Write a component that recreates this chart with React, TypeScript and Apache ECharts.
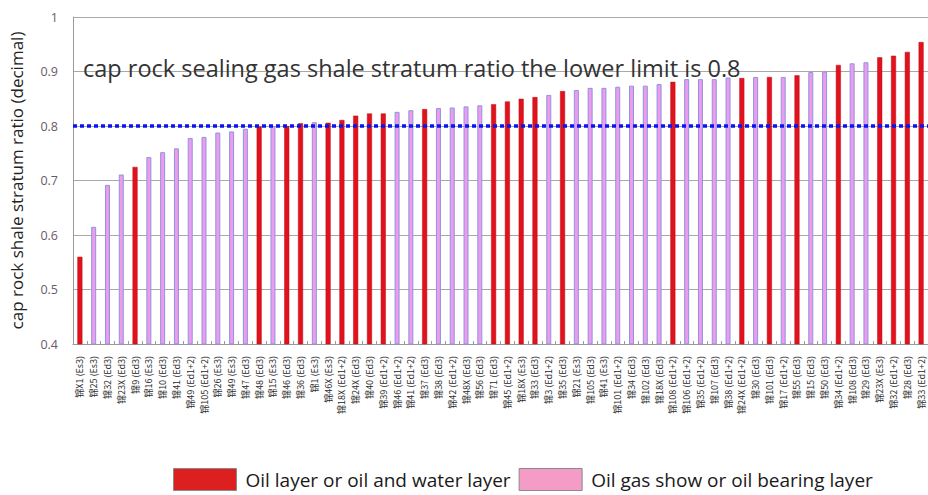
import React, { useEffect, useRef } from "react";
import * as echarts from "echarts";

const wells: string[] = [
  "锦X1 (Es3)", "锦25 (Es3)", "锦32 (Ed3)", "锦23X (Ed3)", "锦9 (Ed3)", "锦16 (Es3)", "锦10 (Ed3)", "锦41 (Ed3)", "锦49 (Ed1+2)", "锦105 (Ed1+2)",
  "锦26 (Es3)", "锦49 (Es3)", "锦47 (Ed3)", "锦48 (Ed3)", "锦15 (Es3)", "锦46 (Ed3)", "锦36 (Ed3)", "锦1 (Es3)", "锦46X (Es3)", "锦18X (Ed1+2)",
  "锦24X (Ed3)", "锦40 (Ed3)", "锦39 (Ed1+2)", "锦46 (Ed1+2)", "锦41 (Ed1+2)", "锦37 (Ed3)", "锦38 (Ed3)", "锦42 (Ed1+2)", "锦48X (Ed3)", "锦56 (Ed3)",
  "锦71 (Ed3)", "锦45 (Ed1+2)", "锦18X (Es3)", "锦33 (Ed3)", "锦3 (Ed1+2)", "锦35 (Ed3)", "锦21 (Es3)", "锦105 (Ed3)", "锦41 (Es3)", "锦101 (Ed1+2)",
  "锦34 (Ed3)", "锦102 (Ed3)", "锦18X (Ed3)", "锦108 (Ed1+2)", "锦106 (Ed1+2)", "锦35 (Ed1+2)", "锦107 (Ed3)", "锦38 (Ed1+2)", "锦24X (Ed1+2)", "锦30 (Ed3)",
  "锦101 (Ed3)", "锦17 (Ed1+2)", "锦55 (Ed3)", "锦15 (Ed3)", "锦50 (Ed3)", "锦34 (Ed1+2)", "锦108 (Ed3)", "锦29 (Ed3)", "锦23X (Es3)", "锦32 (Ed1+2)",
  "锦28 (Ed3)", "锦33 (Ed1+2)",
];

const ratios: number[] = [
  0.560, 0.615, 0.692, 0.711, 0.725, 0.743, 0.752, 0.759, 0.778, 0.780,
  0.788, 0.790, 0.795, 0.799, 0.800, 0.800, 0.805, 0.807, 0.806, 0.811,
  0.819, 0.823, 0.823, 0.826, 0.829, 0.831, 0.833, 0.834, 0.836, 0.838,
  0.840, 0.845, 0.850, 0.853, 0.857, 0.864, 0.866, 0.870, 0.870, 0.872,
  0.874, 0.874, 0.877, 0.881, 0.886, 0.886, 0.886, 0.889, 0.888, 0.890,
  0.890, 0.890, 0.893, 0.899, 0.900, 0.912, 0.915, 0.917, 0.926, 0.929,
  0.936, 0.954,
];

// R = oil layer or oil and water layer, P = oil gas show or oil bearing layer
const layerCodes: string[] = (
  "RPPPRPPPPPPPPRPRRPRRRRRPPRPPPPR" + "RRRPRPPPPPPPRPPPPRPRPRPPRPPRRRR"
).split("");

const yTicks = { min: 0.4, max: 1, interval: 0.1 };
const lowerLimit = 0.8;

const oilName = "Oil layer or oil and water layer";
const showName = "Oil gas show or oil bearing layer";
const yName = "cap rock shale stratum ratio (decimal)";
const noteText = "cap rock sealing gas shale stratum ratio the lower limit is 0.8";

export default function App() {
  const ref = useRef<HTMLDivElement>(null);
  useEffect(() => {
    if (!ref.current) return;
    const chart = echarts.init(ref.current, null, { renderer: "svg" });
    const font = "'Open Sans', 'Noto Sans', sans-serif";
    chart.setOption({
      animation: false,
      backgroundColor: "#ffffff",
      grid: { left: 73, right: -5, top: 17, bottom: 151, containLabel: false },
      legend: {
        left: 173,
        top: 468,
        itemWidth: 63,
        itemHeight: 22,
        itemGap: 8,
        padding: 0,
        icon: "rect",
        textStyle: {
          fontFamily: font,
          fontSize: 19,
          lineHeight: 22,
          color: "#1a1a1a",
          padding: [0, 0, 0, 4],
        },
        data: [
          { name: oilName, itemStyle: { color: "#DC1F1F", borderColor: "#8a8a8a", borderWidth: 1 } },
          { name: showName, itemStyle: { color: "#F49CC6", borderColor: "#8a8a8a", borderWidth: 1 } },
        ],
      },
      xAxis: {
        type: "category",
        data: wells,
        axisLine: { show: true, lineStyle: { color: "#9a9a9a", width: 1 } },
        axisTick: { show: true, inside: true, length: 3, lineStyle: { color: "#9a9a9a" } },
        axisLabel: {
          interval: 0,
          rotate: 90,
          margin: 12,
          fontSize: 9,
          color: "#2a2a2a",
          fontFamily: "'Noto Sans CJK SC', sans-serif",
        },
        splitLine: { show: false },
      },
      yAxis: {
        type: "value",
        min: yTicks.min,
        max: yTicks.max,
        interval: yTicks.interval,
        name: yName,
        nameLocation: "middle",
        nameGap: 48,
        nameTextStyle: { fontFamily: font, fontSize: 17, color: "#222" },
        axisLine: { show: true, lineStyle: { color: "#9a9a9a", width: 1 } },
        axisTick: { show: false },
        axisLabel: { fontFamily: font, fontSize: 12.5, color: "#6a5a6a", margin: 15 },
        splitLine: { show: true, lineStyle: { color: "#a8a8a8", width: 1 } },
      },
      series: [
        {
          name: oilName,
          type: "bar",
          barWidth: 5,
          barGap: "-100%",
          data: ratios.map((v, i) => (layerCodes[i] === "R" ? v : "-")),
          itemStyle: { color: "#E3111B", borderColor: "#B4121A", borderWidth: 0.5 },
        },
        {
          name: showName,
          type: "bar",
          barWidth: 5,
          barGap: "-100%",
          data: ratios.map((v, i) => (layerCodes[i] === "P" ? v : "-")),
          itemStyle: { color: "#EE9AEE", borderColor: "#8E95DD", borderWidth: 1 },
          markLine: {
            silent: true,
            symbol: "none",
            z: 10,
            label: { show: false },
            lineStyle: { color: "#0a14f0", type: [4, 3], width: 3.5 },
            data: [{ yAxis: lowerLimit }],
          },
        },
      ],
      graphic: [
        {
          type: "text",
          x: 83,
          y: 56,
          z: 20,
          style: {
            text: noteText,
            fontFamily: font,
            fontSize: 23.5,
            fill: "#333",
            verticalAlign: "top",
          },
        },
      ],
    });
    return () => chart.dispose();
  }, []);
  return (
    <div
      ref={ref}
      style={{ position: "absolute", left: 0, top: 0, width: 928, height: 495 }}
    />
  );
}
